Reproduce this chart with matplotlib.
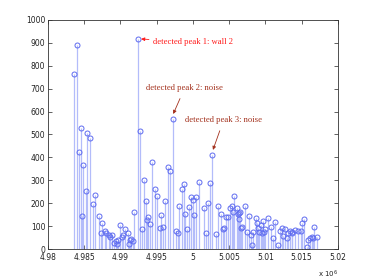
import numpy as np
import matplotlib
matplotlib.use("Agg")
import matplotlib.pyplot as plt

# peak positions (x 10^6) and amplitudes
pos = [4.98363, 4.98396, 4.98423, 4.98451, 4.98473, 4.98487, 4.98520, 4.98542,
       4.98584, 4.98625, 4.98652, 4.98708, 4.98727, 4.98749, 4.98782, 4.98804,
       4.98841, 4.98855, 4.98887, 4.98910, 4.98938, 4.98956, 4.98970, 4.98989,
       4.99017, 4.99030, 4.99062, 4.99099, 4.99117, 4.99127, 4.99145, 4.99172,
       4.99190, 4.99246, 4.99269, 4.99292, 4.99328, 4.99348, 4.99366, 4.99383,
       4.99411, 4.99439, 4.99480, 4.99508, 4.99541, 4.99563, 4.99590, 4.99618,
       4.99651, 4.99687, 4.99720, 4.99770, 4.99789, 4.99811, 4.99848, 4.99876,
       4.99894, 4.99921, 4.99941, 4.99972, 4.99996, 5.00010, 5.00046, 5.00081,
       5.00156, 5.00179, 5.00203, 5.00239, 5.00269, 5.00313, 5.00341, 5.00382,
       5.00410, 5.00428, 5.00459, 5.00483, 5.00513, 5.00542, 5.00556, 5.00570,
       5.00614, 5.00625, 5.00628, 5.00634, 5.00652, 5.00662, 5.00680, 5.00713,
       5.00745, 5.00768, 5.00796, 5.00814, 5.00828, 5.00869, 5.00887, 5.00901,
       5.00915, 5.00934, 5.00952, 5.00962, 5.00983, 5.00997, 5.01039, 5.01072,
       5.01108, 5.01135, 5.01168, 5.01196, 5.01223, 5.01246, 5.01273, 5.01297,
       5.01314, 5.01342, 5.01361, 5.01370, 5.01403, 5.01452, 5.01486, 5.01508,
       5.01531, 5.01568, 5.01590, 5.01614, 5.01637, 5.01659, 5.01676, 5.01710]
amp = [763, 889, 422, 527, 144, 368, 252, 506,
       485, 195, 237, 144, 68, 112, 80, 70,
       60, 54, 60, 26, 33, 20, 39, 105,
       51, 60, 89, 68, 20, 39, 44, 36,
       163, 918, 515, 86, 302, 210, 127, 141,
       109, 382, 262, 232, 92, 148, 97, 210,
       357, 342, 569, 80, 71, 188, 262, 283,
       153, 88, 183, 227, 215, 147, 228, 291,
       178, 68, 200, 287, 412, 64, 189, 151,
       87, 90, 141, 141, 177, 189, 163, 231,
       178, 151, 130, 159, 163, 90, 95, 189,
       76, 145, 61, 17, 76, 135, 112, 90,
       76, 103, 68, 123, 76, 87, 134, 97,
       47, 117, 17, 80, 90, 57, 86, 47,
       68, 80, 71, 76, 83, 80, 80, 112,
       131, 7, 39, 47, 51, 49, 97, 54]

# annotated peaks: (label, peak x, peak y, text x, text y, colour)
notes = [("detected peak 1: wall 2", 4.99246, 918, 4.99450, 902, "#ff1a1a"),
         ("detected peak 2: noise", 4.99720, 569, 4.99885, 703, "#a3301c"),
         ("detected peak 3: noise", 5.00269, 412, 5.00422, 563, "#a3301c")]

fig = plt.figure(figsize=(3.74, 2.8), dpi=100)
ax = fig.add_axes([0.1283, 0.1107, 0.7754, 0.8179])

markers, stems, base = ax.stem(pos, amp, linefmt="-", markerfmt="o", basefmt=" ")
plt.setp(stems, color="#b3bcfa", linewidth=0.9)
plt.setp(markers, markerfacecolor="none", markeredgecolor="#5f6cf0",
         markersize=3.6, markeredgewidth=0.7)

for i, (txt, px, py, tx, ty, col) in enumerate(notes):
    if i == 0:
        ax.annotate(txt, xy=(px, py), xytext=(tx, ty), color=col,
                    family="Liberation Serif", fontsize=6.2, ha="left", va="center",
                    arrowprops=dict(arrowstyle="-|>", color=col, lw=0.6,
                                    mutation_scale=5, shrinkA=1, shrinkB=2))
    else:
        ax.annotate(txt, xy=(px, py + 15), xytext=(tx, ty), color=col,
                    family="Liberation Serif", fontsize=6.2, ha="center", va="center",
                    arrowprops=dict(arrowstyle="-|>", color=col, lw=0.6,
                                    mutation_scale=5, shrinkA=3, shrinkB=1))

ax.set_xlim(4.98, 5.02)
ax.set_ylim(0, 1000)
xt = np.arange(4.98, 5.0201, 0.005)
ax.set_xticks(xt)
ax.set_xticklabels(["4.98", "4.985", "4.99", "4.995", "5", "5.005", "5.01", "5.015", "5.02"])
ax.set_yticks(np.arange(0, 1001, 100))
ax.tick_params(direction="in", length=3, width=0.5, labelsize=5.5,
               top=True, right=True, pad=2, colors="#222222")
ax.tick_params(axis="x", pad=3)
for s in ax.spines.values():
    s.set_linewidth(0.6)
    s.set_color("#333333")
ax.text(1.0, -0.085, r"x 10$^6$", transform=ax.transAxes, fontsize=5,
        ha="right", va="top", color="#222222")

fig.savefig("out.png", dpi=100)
